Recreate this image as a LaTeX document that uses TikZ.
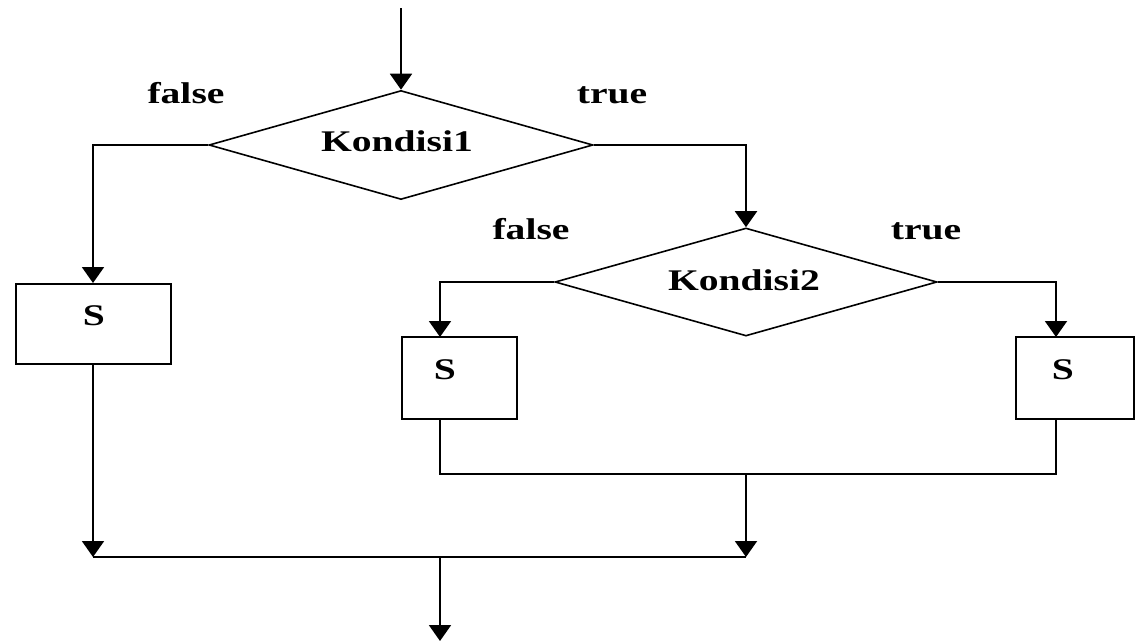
\documentclass[tikz,border=0pt]{standalone}
\usepackage{fontspec}
\setmainfont{Liberation Serif}
\usetikzlibrary{shapes.geometric,arrows.meta}
\newcommand{\wide}[1]{\scalebox{1.32}[1]{#1}}
\begin{document}
\begin{tikzpicture}[x=1pt,y=-1pt,
  line width=2pt,
  flow/.style={draw, -{Triangle[length=16pt,width=22pt]}},
  cond/.style={diamond, draw, line width=1.6pt, inner sep=0pt},
  box/.style={rectangle, draw, line width=2pt, inner sep=0pt},
  txt/.style={font=\fontsize{30}{32}\selectfont\bfseries, inner sep=0pt}
]
\useasboundingbox (0,0) rectangle (1136,643);
% decisions
\node[cond, minimum width=384pt, minimum height=109pt] (d1) at (401,145) {};
\node[txt] (d1t) at (397,141) {\wide{Kondisi1}};
\node[cond, minimum width=382pt, minimum height=108pt] (d2) at (746,282) {};
\node[txt] (d2t) at (744,280) {\wide{Kondisi2}};
% boxes
\node[box, minimum width=155pt, minimum height=80pt] (b1) at (93,324) {};
\node[txt] (b1t) at (94,316) {\wide{S}};
\node[box, minimum width=115pt, minimum height=82pt] (b2) at (459,378) {};
\node[txt] (b2t) at (445,370) {\wide{S}};
\node[box, minimum width=118pt, minimum height=82pt] (b3) at (1075,378) {};
\node[txt] (b3t) at (1063,370) {\wide{S}};
% labels
\node[txt, anchor=base] (f1) at (186,103) {\wide{false}};
\node[txt, anchor=base] (t1) at (612,103) {\wide{true}};
\node[txt, anchor=base] (f2) at (531,239) {\wide{false}};
\node[txt, anchor=base] (t2) at (926,239) {\wide{true}};
% coordinates
\coordinate (start) at (401,8);
\coordinate (j2) at (746,474);
\coordinate (j3) at (746,557);
\coordinate (j1) at (93,557);
\coordinate (j4) at (440,557);
\coordinate (stop) at (440,641);
\coordinate (b2in) at (440,337);
\coordinate (b2out) at (440,419);
\coordinate (b3in) at (1056,337);
\coordinate (b3out) at (1056,419);
% connectors
\draw[flow] (start) -- (d1.north);
\draw[flow] (d1.west) -| (b1.north);
\draw[flow] (d1.east) -| (d2.north);
\draw[flow] (d2.west) -| (b2in);
\draw[flow] (d2.east) -| (b3in);
\draw (b2out) |- (j2) -| (b3out);
\draw[flow] (j2) -- (j3);
\draw[flow] (b1.south) -- (j1);
\draw (j1) -- (j3);
\draw[flow] (j4) -- (stop);
\end{tikzpicture}
\end{document}
